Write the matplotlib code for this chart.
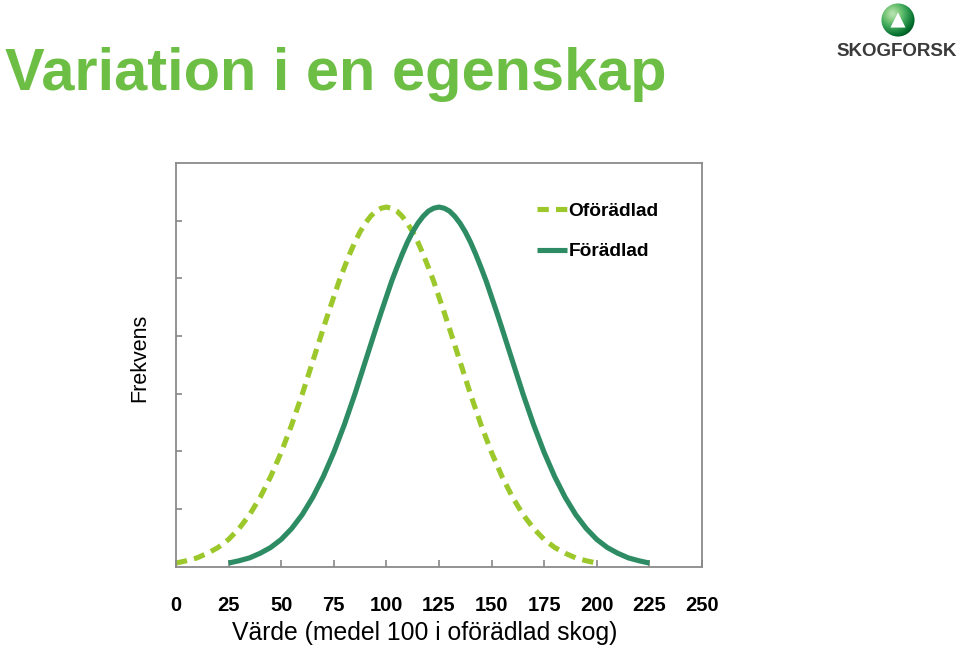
import numpy as np
import matplotlib.pyplot as plt
from matplotlib.patches import Circle, Polygon

""" Variation i en egenskap: frekvens for oförädlad och förädlad skog """

# Values (y in tick units, 7 intervals, no labels)
x_ofor = [0, 5, 10, 15, 20, 25, 30, 35, 40, 45, 50, 55, 60, 65, 70, 72.5, 75, 77.5, 80,
          82.5, 85, 87.5, 90, 92.5, 95, 97.5, 100, 102.5, 105, 107.5, 110, 112.5, 115,
          117.5, 120, 122.5, 125, 127.5, 130, 135, 140, 145, 150, 155, 160, 165, 170,
          175, 180, 185, 190, 195, 200]
y_ofor = [0.06, 0.10, 0.15, 0.23, 0.33, 0.47, 0.66, 0.90, 1.20, 1.56, 1.98, 2.46, 2.99,
          3.56, 4.13, 4.41, 4.68, 4.95, 5.19, 5.42, 5.63, 5.81, 5.96, 6.08, 6.17, 6.22,
          6.24, 6.22, 6.17, 6.08, 5.96, 5.81, 5.63, 5.42, 5.19, 4.95, 4.68, 4.41, 4.13,
          3.56, 2.99, 2.46, 1.98, 1.56, 1.20, 0.90, 0.66, 0.47, 0.33, 0.23, 0.15, 0.10,
          0.06]
x_for = [25, 30, 35, 40, 45, 50, 55, 60, 65, 70, 75, 80, 85, 90, 95, 97.5, 100, 102.5,
         105, 107.5, 110, 112.5, 115, 117.5, 120, 122.5, 125, 127.5, 130, 132.5, 135,
         137.5, 140, 142.5, 145, 147.5, 150, 152.5, 155, 160, 165, 170, 175, 180, 185,
         190, 195, 200, 205, 210, 215, 220, 225]
y_for = [0.06, 0.10, 0.15, 0.23, 0.33, 0.47, 0.66, 0.90, 1.20, 1.56, 1.98, 2.46, 2.99,
         3.56, 4.13, 4.41, 4.68, 4.95, 5.19, 5.42, 5.63, 5.81, 5.96, 6.08, 6.17, 6.22,
         6.24, 6.22, 6.17, 6.08, 5.96, 5.81, 5.63, 5.42, 5.19, 4.95, 4.68, 4.41, 4.13,
         3.56, 2.99, 2.46, 1.98, 1.56, 1.20, 0.90, 0.66, 0.47, 0.33, 0.23, 0.15, 0.10,
         0.06]
xticks = [0, 25, 50, 75, 100, 125, 150, 175, 200, 225, 250]

plt.rcParams['font.family'] = ['Liberation Sans', 'DejaVu Sans']

fig = plt.figure(figsize=(9.6, 6.49), dpi=100)
ax = fig.add_axes([0.1833, 0.1271, 0.5479, 0.6213])

c_light = '#9CC82C'
c_dark = '#2E8C64'

ax.plot(x_ofor, y_ofor, color=c_light, lw=3.7, dashes=(2.2, 1.4), label='Oförädlad')
ax.plot(x_for, y_for, color=c_dark, lw=3.7, solid_capstyle='butt',
        solid_joinstyle='round', label='Förädlad')

ax.set_xlim(0, 250)
ax.set_ylim(0, 7)
ax.set_xticks(xticks)
ax.set_xticklabels([str(t) for t in xticks], fontweight='bold', fontsize=14.5)
ax.set_yticks(range(1, 7))
ax.set_yticklabels([])
ax.tick_params(axis='both', direction='in', length=5, width=1.2, color='#888888')
ax.tick_params(axis='x', pad=21)
ax.tick_params(axis='y', length=4)
for s in ax.spines.values():
    s.set_color('#8a8a8a')
    s.set_linewidth(1.3)

ax.legend(loc='upper left', bbox_to_anchor=(0.686, 0.903), frameon=False, borderpad=0,
          borderaxespad=0, handlelength=1.6, handletextpad=0.05, labelspacing=1.2,
          prop={'weight': 'bold', 'size': 13.8})

fig.text(140 / 960, 1 - 358 / 649, 'Frekvens', fontsize=15.5, rotation=90,
         ha='center', va='center')
fig.text(425 / 960, 1 - 633 / 649, 'Värde (medel 100 i oförädlad skog)', fontsize=17.8,
         ha='center', va='center')

# Title
fig.text(5 / 960, 1 - 74 / 649, 'Variation i en egenskap', fontsize=42.8,
         fontweight='bold', color='#6DBE45', ha='left', va='center')

# Logo
lax = fig.add_axes([880 / 960, 1 - 38 / 649, 36 / 960, 36 / 649])
lax.set_xlim(-1, 1)
lax.set_ylim(-1, 1)
lax.set_aspect('equal')
lax.axis('off')
gy, gx = np.mgrid[-1:1:200j, -1:1:200j]
grad = np.sqrt((gx + 0.3) ** 2 + (gy - 0.35) ** 2)
img = lax.imshow(grad, extent=(-1, 1, -1, 1), origin='lower', cmap='Greens',
                 vmin=-0.6, vmax=1.5)
circ = Circle((0, 0), 0.92, transform=lax.transData, facecolor='none', edgecolor='none')
lax.add_patch(circ)
img.set_clip_path(circ)
lax.add_patch(Polygon([[0, 0.42], [-0.42, -0.42], [0.42, -0.42]], closed=True,
                      facecolor='white', edgecolor='none'))
fig.text(897 / 960, 1 - 52 / 649, 'SKOGFORSK', fontsize=13.5, fontweight='bold',
         color='#3a3a3a', ha='center', va='center')

fig.savefig('out.png', dpi=100)
